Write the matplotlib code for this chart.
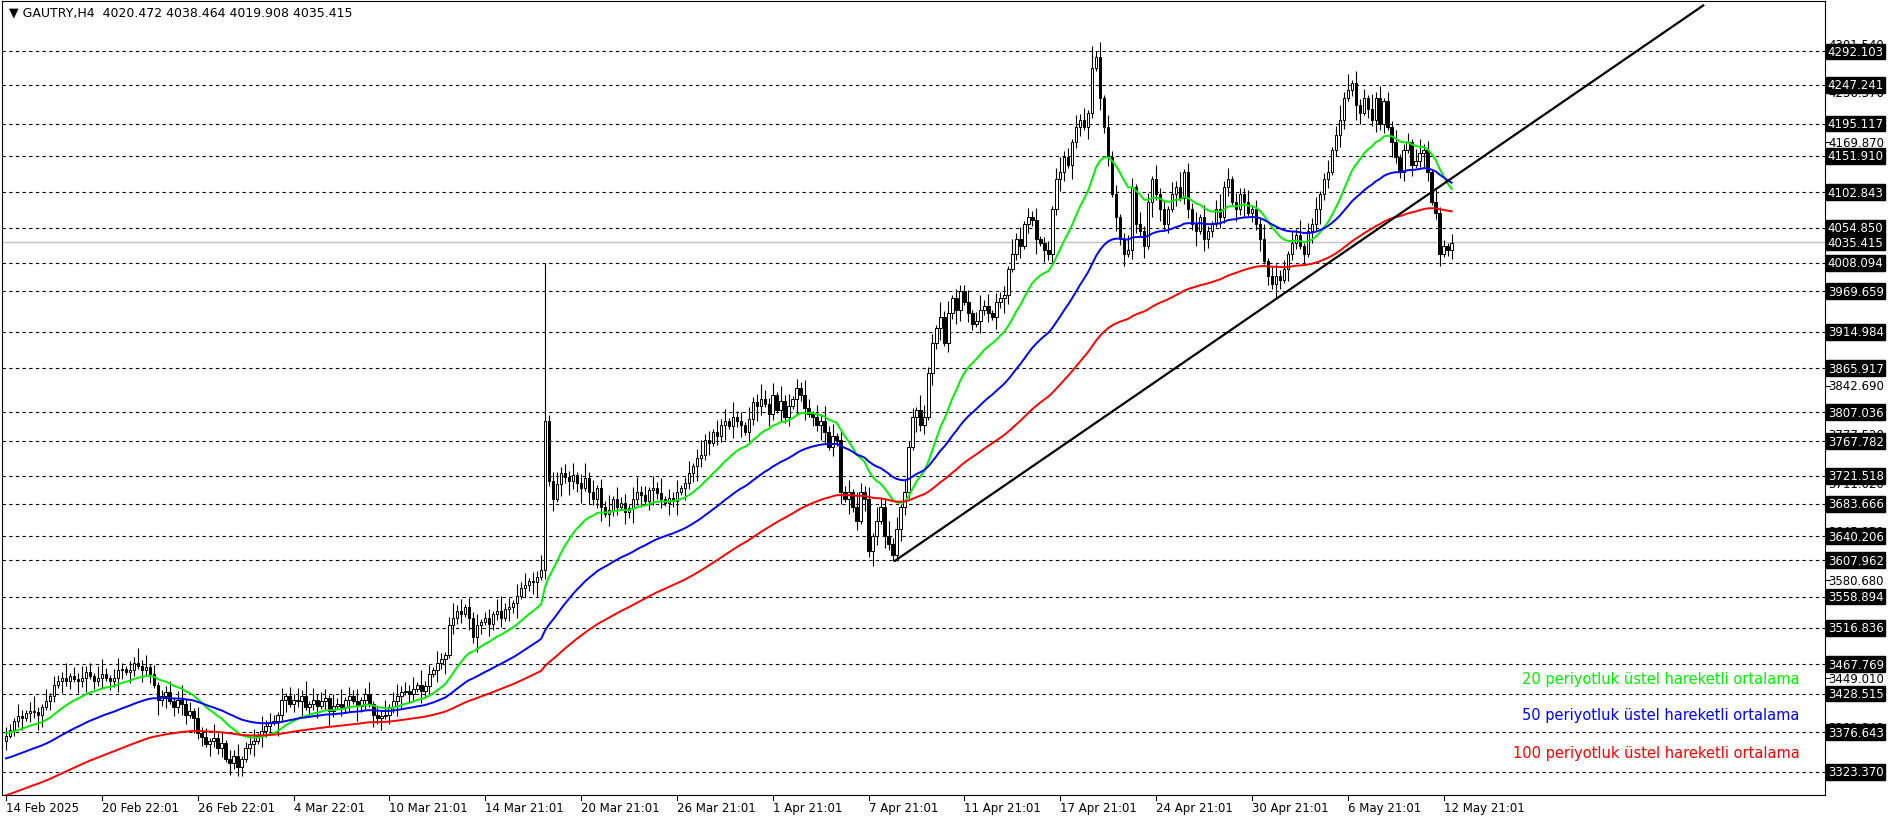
import matplotlib
matplotlib.use("Agg")
import matplotlib.pyplot as plt
import matplotlib.transforms as mtransforms
import numpy as np

# H4 closes, 14 Feb 2025 .. 13 May 2025
closes = [
    3372, 3380, 3392, 3398, 3396, 3402, 3405, 3403, 3400, 3410, 3418, 3425, 3440, 3445, 3450, 3446, 3452, 3448, 3445, 3450,
    3458, 3452, 3446, 3450, 3455, 3450, 3445, 3450, 3460, 3462, 3458, 3460, 3470, 3466, 3460, 3464, 3455,
    3440, 3420, 3425, 3430, 3418, 3410, 3420, 3415, 3400, 3405, 3395, 3375, 3370, 3360, 3365, 3368, 3355, 3362, 3340,
    3335, 3345, 3330, 3340,
    3355, 3360, 3365, 3372, 3378, 3385, 3390, 3392, 3400, 3420, 3425, 3415, 3420, 3418, 3425, 3410, 3415, 3420, 3412, 3418,
    3422, 3405, 3412, 3415, 3410, 3420, 3425, 3418, 3412, 3420, 3428, 3415, 3400, 3395, 3398, 3400, 3410, 3418,
    3425, 3430, 3432, 3428, 3435, 3440, 3432, 3438, 3455, 3460, 3470, 3475, 3480, 3520, 3530, 3540, 3535, 3545, 3530, 3505,
    3520, 3525, 3530, 3522, 3535, 3540, 3530, 3542, 3545, 3550, 3560, 3570, 3575, 3580, 3578, 3585, 3595,
    3795, 3715,
    3690, 3710, 3725, 3720, 3715, 3722, 3712, 3705, 3718, 3700, 3690, 3705, 3680, 3670, 3675, 3690, 3680, 3685, 3672, 3678,
    3690, 3700, 3695, 3688, 3702, 3705, 3698, 3690, 3685, 3692, 3688, 3700, 3705,
    3712, 3725, 3735, 3745, 3750, 3770, 3765, 3780, 3775, 3790, 3795, 3788, 3800, 3795, 3790, 3780, 3798, 3820, 3815, 3825,
    3818, 3805, 3830, 3810, 3822, 3800, 3815, 3825, 3840, 3830,
    3812, 3805, 3800, 3790, 3795, 3780, 3760, 3775, 3770, 3700, 3690, 3700, 3680, 3660, 3700, 3690, 3620, 3640, 3660, 3680,
    3640, 3630, 3615,
    3650, 3680, 3700, 3760, 3800, 3810, 3790, 3800, 3860, 3900, 3920, 3935, 3900, 3940, 3960, 3945, 3970, 3955,
    3940, 3925, 3930, 3945, 3950, 3940, 3935, 3955, 3960, 3965, 4000, 4020, 4040, 4030, 4060, 4070, 4065, 4040, 4035, 4025,
    4020, 4080, 4120, 4130, 4150, 4140, 4170, 4190, 4200, 4190, 4210, 4270, 4285,
    4230, 4190, 4150, 4100, 4070, 4040, 4020, 4025,
    4110, 4060, 4050, 4030, 4090, 4120, 4100, 4080, 4060, 4080, 4100, 4110, 4095, 4130, 4080, 4060, 4050, 4070, 4040, 4050,
    4060, 4080, 4070, 4110, 4120, 4090, 4080, 4100, 4090, 4075,
    4080, 4060, 4040, 4010, 3990, 3980, 3990, 3985, 4000, 4020, 4035, 4045, 4030, 4020, 4050,
    4060, 4080, 4100, 4120, 4130, 4160, 4180, 4200, 4230, 4240, 4250,
    4220, 4210, 4230, 4215, 4200, 4230, 4195, 4225, 4190, 4170, 4150, 4130, 4160, 4170, 4140, 4145, 4155, 4160, 4130, 4090,
    4075, 4020, 4030, 4025, 4035,
]
first_open = 3365
# wick sizes (x4 points)
wick = ("3214213521413225132423145213421325241312241352314231524132412341523214"
        "1324251423314251324124132513423241523142135241324123145231424132512342"
        "3241352413251423145231425132412413523142415231423532415241325314252413"
        "2415324153352414231542315241322413524132315241324123145231424132514231"
        "2531423152314251324142135241322413251342314251324124135231423152413241"
        "2314523142213")
special_high = {135: 4008, 272: 4300, 336: 4262}
special_low = {58: 3318, 222: 3607}

ema_seeds = {20: 3376, 50: 3340, 100: 3290}
ema_colors = {20: "#00ee00", 50: "#0000ff", 100: "#ff0000"}
legend_texts = {20: "20 periyotluk üstel hareketli ortalama",
                50: "50 periyotluk üstel hareketli ortalama",
                100: "100 periyotluk üstel hareketli ortalama"}
legend_y = {20: 3449, 50: 3400, 100: 3349}

boxed_levels = [4292.103, 4247.241, 4195.117, 4151.910, 4102.843, 4054.850, 4008.094, 3969.659,
                3914.984, 3865.917, 3807.036, 3767.782, 3721.518, 3683.666, 3640.206, 3607.962,
                3558.894, 3516.836, 3467.769, 3428.515, 3376.643, 3323.370]
axis_ticks = [4301.540, 4236.370, 4169.870, 3842.690, 3777.520, 3711.020, 3645.850, 3580.680,
              3449.010, 3382.840]
last_price = 4035.415

date_labels = ["14 Feb 2025", "20 Feb 22:01", "26 Feb 22:01", "4 Mar 22:01", "10 Mar 21:01",
               "14 Mar 21:01", "20 Mar 21:01", "26 Mar 21:01", "1 Apr 21:01", "7 Apr 21:01",
               "11 Apr 21:01", "17 Apr 21:01", "24 Apr 21:01", "30 Apr 21:01", "6 May 21:01",
               "12 May 21:01"]
bars_per_label = 24

trend_x = [222.6, 425]
trend_y = [3607, 4354]

closes = np.array(closes, dtype=float)
n = len(closes)
opens = np.concatenate([[first_open], closes[:-1]])
w = np.array([int(c) for c in wick], dtype=float) * 4
highs = np.maximum(opens, closes) + w
lows = np.minimum(opens, closes) - w[::-1]
for k, v in special_high.items():
    highs[k] = v
for k, v in special_low.items():
    lows[k] = v

W, H = 1896, 820
fig = plt.figure(figsize=(W / 100, H / 100), dpi=100)
ax = fig.add_axes([2 / W, 24 / H, (1825 - 2) / W, (820 - 24 - 2) / H])
ax.set_xlim(-1, 455.5)
ax.set_ylim(3292, 4360)

for lv in boxed_levels:
    ax.axhline(lv, color="black", lw=0.8, ls=(0, (3, 3)), zorder=1)
ax.axhline(last_price, color="#c0c0c0", lw=1, zorder=1)

# candles
for i in range(n):
    o, c = opens[i], closes[i]
    ax.vlines(i, lows[i], highs[i], color="black", lw=0.8, zorder=3)
    bull = c >= o
    ax.bar(i, max(abs(c - o), 0.8), bottom=min(o, c), width=0.62,
           color="white" if bull else "black", edgecolor="black", linewidth=0.7, zorder=4)

# EMAs
xs = np.arange(n)
for p, seed in ema_seeds.items():
    a = 2 / (p + 1)
    vals = []
    e = seed
    for c in closes:
        e = e + a * (c - e)
        vals.append(e)
    ax.plot(xs, vals, color=ema_colors[p], lw=1.4, zorder=5)

ax.plot(trend_x, trend_y, color="black", lw=1.6, zorder=6)

ax.set_xticks([])
ax.set_yticks([])

ax.text(0.004, 0.995, "\u25bc GAUTRY,H4  4020.472 4038.464 4019.908 4035.415", transform=ax.transAxes,
        ha="left", va="top", fontsize=9)

# legend texts
blend = mtransforms.blended_transform_factory(ax.transAxes, ax.transData)
for p in [20, 50, 100]:
    ax.text(0.986, legend_y[p], legend_texts[p], color=ema_colors[p], ha="right", va="center",
            fontsize=10.5, transform=blend)

# right axis labels
tr = ax.get_yaxis_transform()
for v in axis_ticks:
    ax.text(1.002, v, f"{v:.3f}", transform=tr, ha="left", va="center", fontsize=8.5, clip_on=False)
    ax.plot([1.0, 1.0025], [v, v], transform=tr, color="black", lw=0.8, clip_on=False)
for v in boxed_levels + [last_price]:
    ax.text(1.0015, v, f"{v:.3f}", transform=tr, ha="left", va="center", fontsize=8.5, color="white",
            bbox=dict(boxstyle="square,pad=0.12", fc="black", ec="black"), clip_on=False, zorder=10)

# date labels
xt = ax.get_xaxis_transform()
for k, lab in enumerate(date_labels):
    x = k * bars_per_label
    ax.plot([x, x], [0, -0.006], transform=xt, color="black", lw=0.8, clip_on=False)
    ax.text(x, -0.008, lab, transform=xt, ha="left", va="top", fontsize=8.5, clip_on=False)

fig.savefig("out.png", dpi=100)
